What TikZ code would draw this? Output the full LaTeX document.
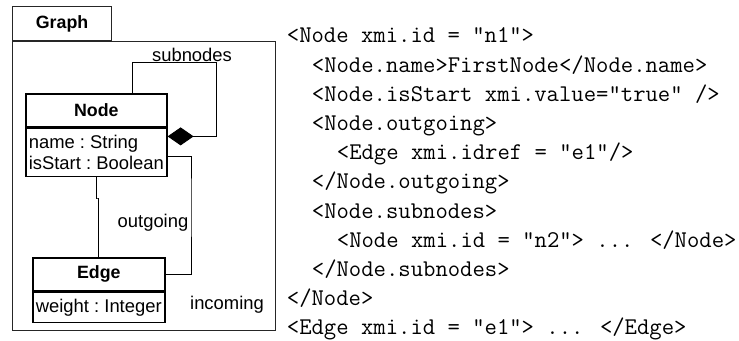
\documentclass[tikz,border=0pt]{standalone}
\usepackage{fontspec}
\setsansfont{Liberation Sans}
\usetikzlibrary{arrows.meta,positioning}

\begin{document}
\begin{tikzpicture}[x=0.5pt, y=-0.5pt,
  every node/.style={font=\sffamily\frenchspacing\fontsize{9.2pt}{10.3pt}\selectfont},
  pkgbox/.style={draw=black!85, line width=0.6pt, inner sep=0pt, anchor=north west},
  classhead/.style={draw, line width=0.8pt, inner sep=0pt, minimum height=16.5pt,
    font=\sffamily\bfseries\fontsize{8.9pt}{10pt}\selectfont},
  classattr/.style={draw, line width=0.8pt, align=left, inner xsep=1pt, inner ysep=0pt},
  assoc/.style={line width=0.5pt},
  code/.style={font=\ttfamily\fontsize{12pt}{14pt}\selectfont, inner sep=0pt, anchor=base west}]
  \useasboundingbox (0,0) rectangle (739,341);
  % package frame
  \node[pkgbox, minimum width=49.5pt, minimum height=17pt,
    font=\sffamily\bfseries\fontsize{8.9pt}{10pt}\selectfont] (graphtab) at (12,6) {Graph};
  \node[pkgbox, minimum width=131.5pt, minimum height=144.5pt] (graphframe) at (graphtab.south west) {};
  % classes
  \node[classhead, minimum width=70.5pt, anchor=north west] (nodehead) at (25,93) {Node};
  \node[classattr, minimum width=70.5pt, minimum height=24pt, below=0pt of nodehead] (nodeattr)
    {name : String\\isStart : Boolean};
  \node[classhead, minimum width=66pt, anchor=north west] (edgehead) at (32,257) {Edge};
  \node[classattr, minimum width=66pt, minimum height=15pt, below=0pt of edgehead] (edgeattr)
    {weight : Integer};
  % associations
  \coordinate (subcorner) at (216,63);
  \coordinate (outcorner) at (191,200);
  \coordinate (injog) at (98,199);
  \draw[assoc, -{Diamond[length=13pt, width=9pt]}] ([xshift=-17.5pt]nodehead.north east)
    |- (subcorner) |- ([yshift=8pt]nodeattr.east);
  \draw[assoc] ([yshift=-2pt]nodeattr.east) -| (outcorner) |- (edgehead.east);
  \draw[assoc] (nodeattr.south) |- (injog) -| (edgehead.north);
  \node (subnodeslbl) at (192,54.5) {subnodes};
  \node (outgoinglbl) at (153,223) {outgoing};
  \node (incominglbl) at (227,305) {incoming};
  % XMI serialisation
  \node[code] (xml1) at (286.5,43) {<Node xmi.id = "n1">};
  \node[code] (xml2) at (311.5,72.2) {<Node.name>FirstNode</Node.name>};
  \node[code] (xml3) at (311.5,101.4) {<Node.isStart xmi.value="true" />};
  \node[code] (xml4) at (311.5,130.6) {<Node.outgoing>};
  \node[code] (xml5) at (336.5,159.8) {<Edge xmi.idref = "e1"/>};
  \node[code] (xml6) at (311.5,189) {</Node.outgoing>};
  \node[code] (xml7) at (311.5,218.2) {<Node.subnodes>};
  \node[code] (xml8) at (336.5,247.4) {<Node xmi.id = "n2"> ... </Node>};
  \node[code] (xml9) at (311.5,276.6) {</Node.subnodes>};
  \node[code] (xml10) at (286.5,305.8) {</Node>};
  \node[code] (xml11) at (286.5,335) {<Edge xmi.id = "e1"> ... </Edge>};
\end{tikzpicture}
\end{document}
